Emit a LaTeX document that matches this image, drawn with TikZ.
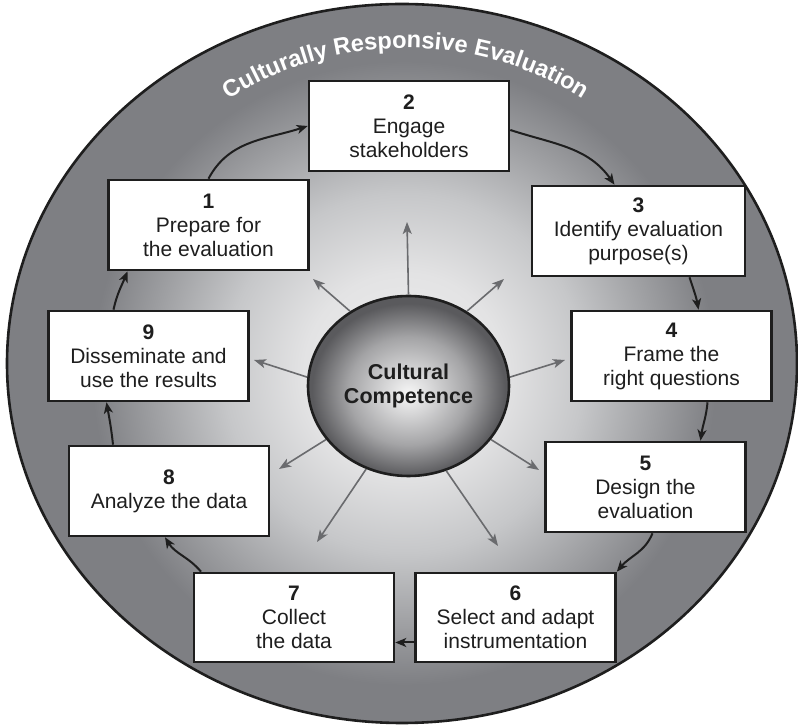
\documentclass[tikz,border=0pt]{standalone}
\usepackage{fontspec}
\setmainfont{Liberation Sans}
\usetikzlibrary{arrows.meta,decorations.text,shapes.geometric}

% palette
\definecolor{ringgray}{HTML}{7E7F83}
\definecolor{raygray}{HTML}{6A6B6E}
\definecolor{haloA}{HTML}{EEEEEF}
\definecolor{haloB}{HTML}{E3E3E4}
\definecolor{haloC}{HTML}{C6C7C9}
\definecolor{haloD}{HTML}{9D9EA1}
\definecolor{orbA}{HTML}{F6F6F6}
\definecolor{orbB}{HTML}{D6D6D7}
\definecolor{orbC}{HTML}{A4A4A6}
\definecolor{orbD}{HTML}{5A5A5D}
\definecolor{inkblack}{HTML}{1E1E1E}

% soft light glow behind the whole cycle (real size, 1pt per unit)
\pgfdeclareradialshading{halo}{\pgfpoint{0pt}{0pt}}{%
  color(0pt)=(haloA); color(100pt)=(haloB); color(180pt)=(haloC);
  color(255pt)=(haloD); color(312pt)=(ringgray); color(400pt)=(ringgray)}

% shaded ball in the middle (25bp = rim of the node)
\pgfdeclareradialshading{orb}{\pgfpoint{0bp}{-2bp}}{%
  color(0bp)=(orbA); color(6bp)=(orbB); color(15bp)=(orbC);
  color(24bp)=(orbD); color(50bp)=(orbD)}

\begin{document}
\begin{tikzpicture}[x=1pt,y=1pt,
  stepbox/.style={draw=inkblack, line width=2.6pt, fill=white,
    minimum width=200pt, minimum height=90pt, inner sep=0pt,
    align=center, text=inkblack, font=\fontsize{21}{24}\selectfont},
  flow/.style={draw=inkblack, line width=2pt,
    -{Stealth[length=11pt,width=9pt,inset=3pt]}},
  ray/.style={draw=raygray, line width=1.6pt,
    -{Stealth[length=12pt,width=9pt,inset=3pt,fill=raygray]}}]

\useasboundingbox (0,0) rectangle (798,725);

% outer disc with its glow
\begin{scope}
  \clip (402,361.5) ellipse [x radius=395, y radius=359.5];
  \fill[ringgray] (0,0) rectangle (798,725);
  \node[inner sep=0pt] at (404,352) {\pgfuseshading{halo}};
\end{scope}
\draw[draw=inkblack, line width=2.6pt] (402,361.5) ellipse [x radius=395, y radius=359.5];

% title along the rim
\path[decorate, decoration={text along path, text align=center,
  text={|\color{white}\bfseries\fontsize{23.6}{28}\selectfont|Culturally Responsive Evaluation}}]
  (75,346) arc[start angle=180, end angle=0, radius=331];

% centre ball
\node[ellipse, shade, shading=orb, draw=inkblack, line width=2.6pt,
  minimum width=201pt, minimum height=180pt, inner sep=0pt,
  align=center, text=inkblack, font=\bfseries\fontsize{21.5}{24}\selectfont]
  (core) at (408.5,339) {Cultural\\Competence};

% ends of the rays
\coordinate (rUp) at (407,503);
\coordinate (rUL) at (313,446);
\coordinate (rUR) at (504,446);
\coordinate (rL)  at (254,365);
\coordinate (rR)  at (565,365);
\coordinate (rLL) at (279,256);
\coordinate (rLR) at (539,255);
\coordinate (rDL) at (317,183);
\coordinate (rDR) at (498,179);

\draw[ray] (core.90)    -- (rUp);
\draw[ray] (core.128)   -- (rUL);
\draw[ray] (core.52)    -- (rUR);
\draw[ray] (core.175)   -- (rL);
\draw[ray] (core.5)     -- (rR);
\draw[ray] (core.213)   -- (rLL);
\draw[ray] (core.327)   -- (rLR);
\draw[ray] (core.243)   -- (rDL);
\draw[ray] (core.294)   -- (rDR);

% the nine steps
\node[stepbox] (b1) at (208.5,500) {\textbf{1}\\Prepare for\\the evaluation};
\node[stepbox] (b2) at (409,599) {\textbf{2}\\Engage\\stakeholders};
\node[stepbox, minimum width=213pt] (b3) at (638.5,494) {\textbf{3}\\Identify evaluation\\purpose(s)};
\node[stepbox] (b4) at (671.5,369) {\textbf{4}\\Frame the\\right questions};
\node[stepbox] (b5) at (645.5,238) {\textbf{5}\\Design the\\evaluation};
\node[stepbox, minimum height=89pt] (b6) at (515.5,107.5) {\textbf{6}\\Select and adapt\\instrumentation};
\node[stepbox, minimum height=89pt] (b7) at (294,107.5) {\textbf{7}\\Collect\\the data};
\node[stepbox] (b8) at (169,234) {\textbf{8}\\Analyze the data};
\node[stepbox] (b9) at (148.5,369) {\textbf{9}\\Disseminate and\\use the results};

% cycle connectors
\draw[flow] (b1.north) to[out=62,in=198] (b2.west);
\draw[flow] ([yshift=-4pt]b2.east) to[out=-18,in=125] ([xshift=-24pt]b3.north);
\draw[flow] ([xshift=51pt]b3.south) to[out=-72,in=100] ([xshift=27pt]b4.north);
\draw[flow] ([xshift=36pt]b4.south) to[out=-95,in=82] ([xshift=55pt]b5.north);
\draw[flow] ([xshift=7pt]b5.south) to[out=-112,in=50] (b6.north east);
\draw[flow] ([yshift=-25pt]b6.west) -- ([yshift=-25pt]b7.east);
\draw[flow] ([xshift=-93pt]b7.north) to[out=130,in=-58] ([xshift=-4pt]b8.south);
\draw[flow] ([xshift=-56pt]b8.north) to[out=96,in=-80] ([xshift=-42pt]b9.south);
\draw[flow] ([xshift=-35pt]b9.north) to[out=78,in=-112] ([xshift=-81pt]b1.south);

\end{tikzpicture}
\end{document}
